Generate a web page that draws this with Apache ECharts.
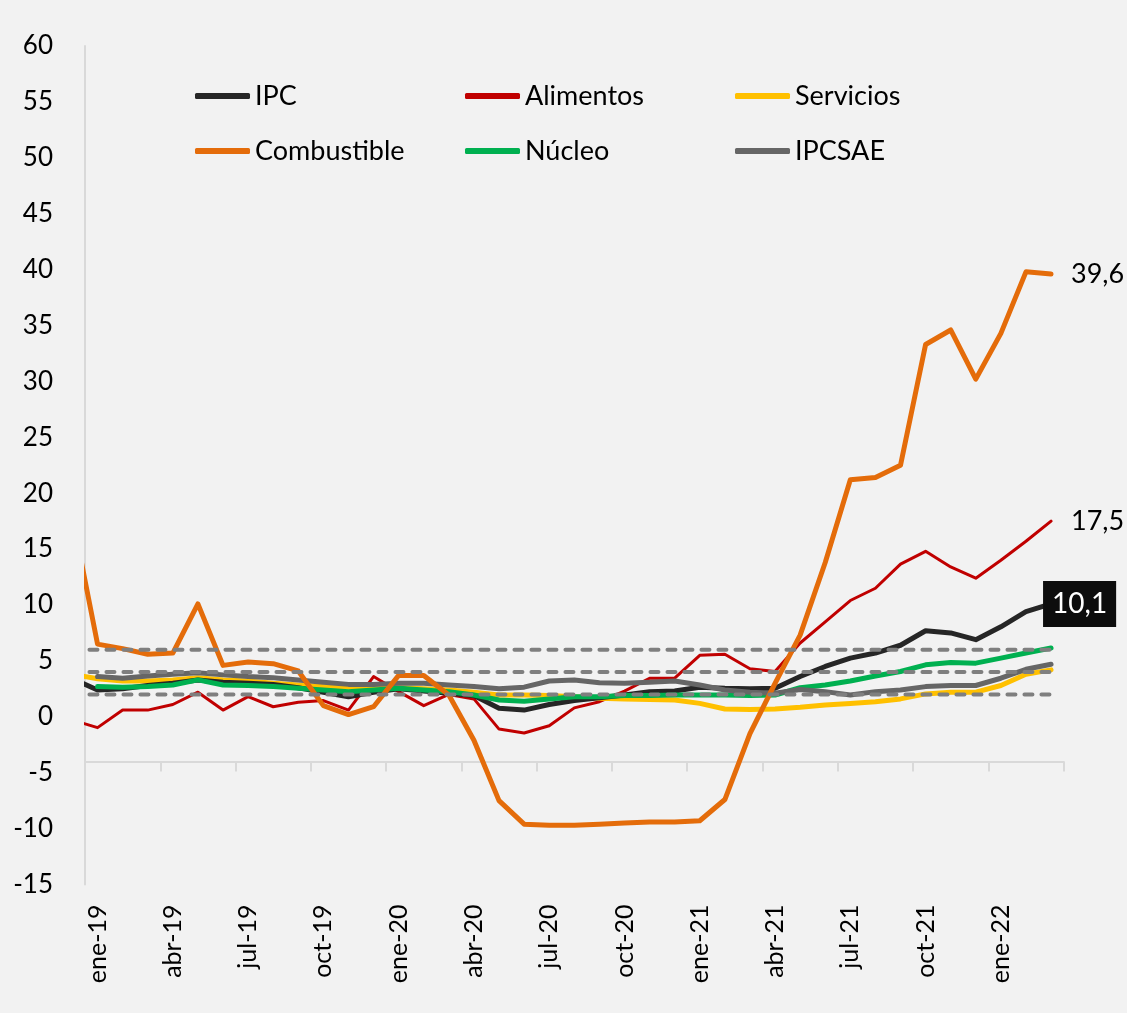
<!DOCTYPE html>
<html>
<head>
<meta charset="utf-8">
<script src="https://cdn.jsdelivr.net/npm/echarts@6/dist/echarts.min.js"></script>
<style>
  html, body { margin: 0; padding: 0; background: #F2F2F2; }
  #chart { width: 1127px; height: 1013px; }
</style>
</head>
<body>
<div id="chart"></div>
<script>
// periodos mensuales (dic-18 solo sirve para el tramo que entra por la izquierda)
const periods = ['dic-18', 'ene-19', 'feb-19', 'mar-19', 'abr-19', 'may-19', 'jun-19', 'jul-19', 'ago-19', 'sep-19',
  'oct-19', 'nov-19', 'dic-19', 'ene-20', 'feb-20', 'mar-20', 'abr-20', 'may-20', 'jun-20', 'jul-20',
  'ago-20', 'sep-20', 'oct-20', 'nov-20', 'dic-20', 'ene-21', 'feb-21', 'mar-21', 'abr-21', 'may-21',
  'jun-21', 'jul-21', 'ago-21', 'sep-21', 'oct-21', 'nov-21', 'dic-21', 'ene-22', 'feb-22', 'mar-22']
const months = periods.slice(1)

// variación interanual (%)
const ipc = [3.4, 2.4, 2.5, 2.8, 3.0, 3.3, 3.1, 3.0, 2.9, 2.6, 2.2, 1.8, 2.2, 2.5, 2.3, 2.1, 1.9, 0.76, 0.6, 1.1,
  1.45, 1.7, 1.95, 2.25, 2.3, 2.65, 2.55, 2.5, 2.55, 3.6, 4.5, 5.25, 5.7, 6.4, 7.7, 7.5, 6.9, 8.05, 9.4, 10.1]
const alimentos = [-0.3, -0.97, 0.6, 0.6, 1.1, 2.2, 0.6, 1.8, 0.9, 1.3, 1.45, 0.6, 3.6, 2.25, 1.0, 2.0, 1.6, -1.1, -1.45, -0.8,
  0.8, 1.35, 2.3, 3.45, 3.45, 5.5, 5.6, 4.3, 4.05, 6.6, 8.5, 10.4, 11.5, 13.65, 14.8, 13.4, 12.4, 14.0, 15.7, 17.5]
const servicios = [3.8, 3.4, 3.2, 3.2, 3.3, 3.5, 3.3, 3.2, 3.0, 2.85, 2.7, 2.65, 2.6, 2.6, 2.5, 2.4, 2.2, 1.95, 1.95, 1.9,
  1.8, 1.65, 1.6, 1.55, 1.5, 1.2, 0.7, 0.65, 0.7, 0.85, 1.05, 1.2, 1.35, 1.6, 2.05, 2.2, 2.2, 2.8, 3.8, 4.2]
const combustible = [17.9, 6.5, 6.1, 5.6, 5.7, 10.1, 4.6, 4.9, 4.75, 4.1, 1.0, 0.2, 0.9, 3.7, 3.7, 1.95, -2.1, -7.5, -9.6, -9.7,
  -9.7, -9.6, -9.5, -9.4, -9.4, -9.3, -7.4, -1.5, 3.0, 7.3, 13.8, 21.2, 21.4, 22.5, 33.3, 34.6, 30.2, 34.3, 39.8, 39.6]
const nucleo = [null, 2.7, 2.65, 2.7, 2.85, 3.3, 2.85, 2.8, 2.7, 2.55, 2.4, 2.25, 2.4, 2.55, 2.4, 2.25, 1.95, 1.5, 1.4, 1.6,
  1.8, 1.8, 1.9, 1.9, 1.95, 1.95, 1.95, 1.9, 1.95, 2.6, 2.85, 3.2, 3.65, 4.05, 4.65, 4.85, 4.8, 5.25, 5.7, 6.15]
const ipcsae = [null, 3.6, 3.45, 3.65, 3.8, 3.95, 3.75, 3.6, 3.5, 3.3, 3.1, 2.9, 2.9, 3.0, 3.0, 2.85, 2.7, 2.5, 2.65, 3.2,
  3.3, 3.05, 3.0, 3.1, 3.2, 2.85, 2.4, 2.2, 2.1, 2.45, 2.25, 1.95, 2.25, 2.4, 2.7, 2.8, 2.8, 3.45, 4.25, 4.7]

// rango meta (inferior, centro, superior)
const metaBand = [2, 4, 6]

const yTicks = { min: -15, max: 60, interval: 5 }

const FONT = 'Lato'
const fmt = v => String(v).replace('.', ',')

// x numerica: ene-19 = 0, dic-18 = -1
const toXY = arr => arr.map((v, i) => [i - 1, v])

const GRID = { left: 85, right: 63.4, top: 46, bottom: 128.5 }

const chart = echarts.init(document.getElementById('chart'))

function lineSeries (name, data, color, width, z, endLabel) {
  const s = {
    name: name,
    type: 'line',
    xAxisIndex: 2,
    data: toXY(data),
    symbol: 'none',
    z: z,
    lineStyle: { color: color, width: width, cap: 'round', join: 'round' },
    itemStyle: { color: color }
  }
  if (endLabel) s.endLabel = endLabel
  return s
}

const series = [
  lineSeries('Alimentos', alimentos, '#C00000', 3, 2, {
    show: true, formatter: p => fmt(p.value[1]), distance: 20,
    color: '#000', fontFamily: FONT, fontSize: 27
  }),
  lineSeries('Servicios', servicios, '#FFC000', 5, 3),
  lineSeries('IPC', ipc, '#262626', 5, 4, {
    show: true, formatter: p => fmt(p.value[1]), distance: 0, offset: [-8, 0],
    color: '#fff', backgroundColor: '#0D0D0D', padding: [9, 9, 9, 9], lineHeight: 28,
    fontFamily: FONT, fontSize: 28
  }),
  lineSeries('Núcleo', nucleo, '#00B050', 5, 5),
  lineSeries('IPCSAE', ipcsae, '#666666', 5, 6),
  lineSeries('Combustible', combustible, '#E46C0A', 5, 7, {
    show: true, formatter: p => fmt(p.value[1]), distance: 20,
    color: '#000', fontFamily: FONT, fontSize: 27
  })
]

metaBand.forEach(v => {
  series.push({
    name: 'meta' + v,
    type: 'line',
    xAxisIndex: 2,
    silent: true,
    symbol: 'none',
    z: 8,
    data: periods.map((p, i) => [i - 1, v]),
    lineStyle: { color: '#7F7F7F', width: 4, type: [8, 9], cap: 'round' }
  })
})

const legendBase = {
  left: 190,
  orient: 'horizontal',
  icon: 'roundRect',
  itemWidth: 55,
  itemHeight: 6,
  itemGap: 20,
  textStyle: { fontFamily: FONT, fontSize: 27, color: '#000', width: 190, lineHeight: 30 }
}

const option = {
  animation: false,
  backgroundColor: '#F2F2F2',
  textStyle: { fontFamily: FONT },
  grid: Object.assign({ outerBoundsMode: 'none' }, GRID),
  // tapa el tramo recortado que sobresale a la izquierda del eje vertical
  graphic: [{
    type: 'rect',
    z: 100,
    silent: true,
    shape: { x: 56, y: GRID.top - 10, width: GRID.left - 57, height: 1013 - GRID.top - GRID.bottom + 20 },
    style: { fill: '#F2F2F2' }
  }],
  legend: [
    Object.assign({}, legendBase, { top: 76, data: ['IPC', 'Alimentos', 'Servicios'] }),
    Object.assign({}, legendBase, { top: 131, data: ['Combustible', 'Núcleo', 'IPCSAE'] })
  ],
  xAxis: [
    {
      // etiquetas al pie del gráfico
      type: 'category',
      data: months,
      boundaryGap: true,
      position: 'bottom',
      axisLine: { show: false },
      axisTick: { show: false },
      axisLabel: {
        interval: 2, rotate: 90, margin: 20,
        fontFamily: FONT, fontSize: 25, color: '#000'
      }
    },
    {
      // eje horizontal que cruza en -4
      type: 'category',
      data: months,
      boundaryGap: true,
      position: 'bottom',
      offset: -123,
      axisLine: { show: true, lineStyle: { color: '#D9D9D9', width: 2 } },
      axisTick: { show: true, interval: 2, length: 10, lineStyle: { color: '#D9D9D9', width: 2 } },
      axisLabel: { show: false }
    },
    {
      type: 'value',
      min: -0.5,
      max: months.length - 0.5,
      show: false
    }
  ],
  yAxis: {
    type: 'value',
    min: yTicks.min,
    max: yTicks.max,
    interval: yTicks.interval,
    splitLine: { show: false },
    axisLine: { show: true, onZero: false, lineStyle: { color: '#D9D9D9', width: 2 } },
    axisTick: { show: false },
    axisLabel: { margin: 32, fontFamily: FONT, fontSize: 26, color: '#000' }
  },
  series: series
}

chart.setOption(option)
</script>
</body>
</html>
